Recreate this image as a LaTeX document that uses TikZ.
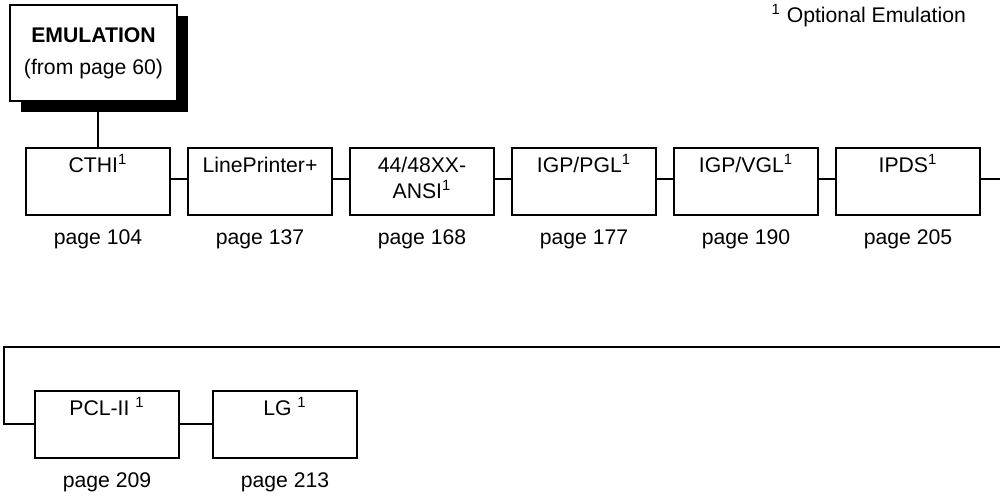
\documentclass[tikz,border=0pt]{standalone}
\usepackage{fontspec}
\setmainfont{Liberation Sans}
\usetikzlibrary{positioning,shadows}

\begin{document}
\begin{tikzpicture}[x=0.5pt,y=-0.5pt,
  every node/.style={font=\fontsize{10.6}{13}\selectfont},
  link/.style={line width=1pt},
  menubox/.style={draw,line width=1pt,inner sep=0pt,outer sep=0pt,
    minimum width=72pt,text height=12.3pt,text depth=21.2pt},
  pagelbl/.style={inner sep=0pt,below=7.2pt of #1}]
  \useasboundingbox (0,0) rectangle (1000,495);

  % title box with solid shadow
  \node[draw,line width=1pt,fill=white,minimum width=83.5pt,minimum height=48pt,
    align=center,drop shadow={shadow xshift=5.5pt,shadow yshift=-5.5pt,fill=black,opacity=1}]
    (emul) at (93.5,53) {\textbf{EMULATION}\\[3pt](from page 60)};

  \node[anchor=base east] (note) at (973,22.5) {\textsuperscript{1} Optional Emulation};

  % first row
  \node[menubox] (cthi) at (98,181.5) {CTHI\textsuperscript{1}};
  \node[menubox,right=9pt of cthi] (lp) {LinePrinter+};
  \node[menubox,right=9pt of lp] (ansi) {\begin{tabular}[t]{@{}c@{}}44/48XX-\\ANSI\textsuperscript{1}\end{tabular}};
  \node[menubox,right=9pt of ansi] (pgl) {IGP/PGL\textsuperscript{1}};
  \node[menubox,right=9pt of pgl] (vgl) {IGP/VGL\textsuperscript{1}};
  \node[menubox,right=9pt of vgl] (ipds) {IPDS\textsuperscript{1}};

  \node[pagelbl=cthi] (pg-cthi) {page 104};
  \node[pagelbl=lp] (pg-lp) {page 137};
  \node[pagelbl=ansi] (pg-ansi) {page 168};
  \node[pagelbl=pgl] (pg-pgl) {page 177};
  \node[pagelbl=vgl] (pg-vgl) {page 190};
  \node[pagelbl=ipds] (pg-ipds) {page 205};

  % second row
  \node[menubox] (pcl) at (107,424) {PCL-II \textsuperscript{1}};
  \node[menubox,right=17pt of pcl] (lg) {LG \textsuperscript{1}};

  \node[pagelbl=pcl] (pg-pcl) {page 209};
  \node[pagelbl=lg] (pg-lg) {page 213};

  % connectors
  \draw[link] (emul.south -| cthi.north) -- (cthi.north);
  \foreach \a/\b in {cthi/lp,lp/ansi,ansi/pgl,pgl/vgl,vgl/ipds}
    \draw[link] ([yshift=1.5pt]\a.east) -- ([yshift=1.5pt]\b.west);

  \coordinate (ipdsout) at ([yshift=1.5pt]ipds.east);
  \coordinate (wrapR) at (1000,347);
  \coordinate (wrapL) at (4,347);
  \draw[link] (ipdsout) -- (ipdsout -| wrapR);
  \draw[link] (wrapR) -- (wrapL) |- (pcl.west);
  \draw[link] (pcl) -- (lg);
\end{tikzpicture}
\end{document}
